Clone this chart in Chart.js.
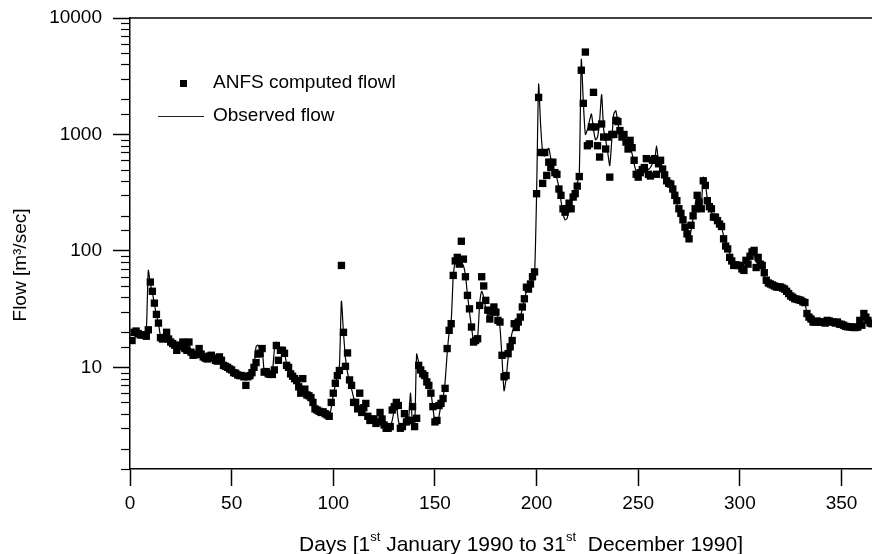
<!DOCTYPE html>
<html>
<head>
<meta charset="utf-8">
<title>Flow 1990</title>
<script src="https://cdn.jsdelivr.net/npm/chart.js@4.4.0/dist/chart.umd.min.js"></script>
<style>
    html, body { margin: 0; padding: 0; background: #ffffff; }
    #chartBox { width: 872px; height: 554px; }
</style>
</head>
<body>
<div id="chartBox"><canvas id="flowChart" width="872" height="554"></canvas></div>
<script>
// daily observed flow (m3/sec), one array per month of 1990
const observedJan = [19.5, 20, 20, 19.5, 19.5, 19, 19, 20, 68, 52, 44, 35, 28, 24, 18.5, 18, 18.5, 19.5, 18, 17, 16, 15, 14.5, 15.5, 16, 16, 15.5, 15, 15.5, 14, 13];
const observedFeb = [13, 13.5, 14, 13.5, 12.5, 12, 12, 12.5, 12.5, 12, 11.5, 11.5, 12, 11.5, 10.5, 10, 10, 9.8, 9.5, 9, 8.8, 8.7, 8.5, 8.5, 8.2, 8, 8, 8.5];
const observedMar = [9, 10, 15, 15.5, 14.5, 14.5, 9.2, 9, 9, 8.8, 9, 14, 16.5, 15, 14, 13.5, 13, 11, 10, 9, 8.5, 7.8, 7.5, 7, 6.8, 6.5, 6, 5.8, 5.7, 5.5, 5];
const observedApr = [4.7, 4.3, 4.3, 4.2, 4.1, 4, 3.9, 3.8, 4.5, 5.8, 7, 8.5, 10, 37, 20, 12, 9, 7.5, 6.5, 5.5, 5, 4.8, 4.6, 4.3, 4.2, 4, 3.8, 3.6, 3.5, 3.4];
const observedMay = [3.3, 3.3, 3.5, 3.5, 3.2, 3, 3, 3.1, 3.5, 4.3, 4.8, 3.5, 3, 3.1, 3.5, 3.2, 3.5, 6, 3.2, 3, 13, 11, 9.5, 8.8, 8.5, 7.8, 7, 6.2, 4.5, 3.4, 3.3];
const observedJun = [3.8, 4.8, 5.5, 7.5, 13, 20, 25, 60, 82, 88, 84, 78, 75, 62, 42, 30, 22, 17, 17, 18, 35, 45, 40, 32, 28, 26, 28, 32, 30, 27];
const observedJul = [22, 12, 6.3, 8, 12, 16, 20, 22, 23, 25, 27, 32, 38, 45, 50, 52, 58, 62, 300, 2700, 1200, 700, 650, 720, 760, 620, 520, 460, 420, 350, 270];
const observedAug = [210, 185, 190, 230, 255, 290, 310, 380, 450, 4400, 1900, 1000, 1100, 1300, 1500, 1100, 900, 950, 1300, 2200, 1100, 900, 700, 540, 900, 1500, 1600, 1250, 1050, 950, 900];
const observedSep = [850, 800, 800, 680, 560, 480, 460, 470, 500, 520, 540, 500, 520, 560, 580, 800, 580, 560, 500, 430, 400, 370, 345, 320, 290, 260, 215, 190, 165, 145];
const observedOct = [130, 120, 150, 190, 250, 300, 260, 250, 430, 380, 280, 240, 215, 200, 190, 180, 170, 160, 135, 115, 105, 95, 85, 78, 75, 74, 73, 72, 78, 85, 90];
const observedNov = [98, 100, 95, 80, 85, 80, 72, 60, 56, 53, 52, 51, 50, 49, 49, 48, 47.5, 47, 45, 43, 41, 40, 39, 38.5, 38, 37.5, 37, 36, 29, 27];
const observedDec = [26, 25, 24.5, 24.5, 24.5, 24.5, 24.5, 25, 25.3, 25, 24.5, 24.5, 24, 24, 23.5, 23.4, 23, 22.5, 22.5, 22.3, 22.2, 22, 22, 22, 23, 26, 28, 27, 25, 24, 23.7];

// daily ANFS computed flow
const computedJan = [17, 20, 20.5, 19.5, 19, 19, 19, 18.5, 21, 54, 45, 35.6, 28.5, 24, 18, 17.5, 18, 20, 17.5, 16.5, 16, 15.5, 14, 15, 15.5, 16.5, 14.5, 14, 16.5, 13.5, 12.7];
const computedFeb = [12.8, 13, 14.5, 13, 12.3, 12, 11.8, 12.5, 12.7, 12, 11.5, 11.3, 12.3, 11.5, 10.4, 10.2, 10, 9.7, 9.5, 9, 8.9, 8.6, 8.5, 8.5, 8.3, 7, 8.3, 8.5];
const computedMar = [9, 10, 11, 13, 13.2, 14.5, 9.1, 9.2, 8.8, 8.7, 8.7, 9.5, 15.4, 11.5, 14, 14, 13.2, 10.4, 10, 8.8, 8.4, 8, 7.7, 6.8, 6, 8, 6.5, 5.8, 5.7, 5.5, 5];
const computedApr = [4.4, 4.3, 4.2, 4.1, 4.15, 4, 3.9, 3.8, 5, 6, 7.3, 8.5, 9.4, 75, 20, 10.2, 13.3, 7.8, 7, 5, 5, 4.4, 6, 4.1, 4.5, 4.9, 3.8, 3.5, 3.6, 3.6];
const computedMay = [3.3, 3.4, 4.1, 3.6, 3.2, 3, 3, 3.1, 4.3, 4.6, 5, 4.7, 3, 3.1, 4, 3.4, 3.5, 3.5, 4.6, 3.1, 3.65, 10.4, 9.5, 8.8, 8.5, 7.5, 7, 6, 4.6, 3.4, 3.5];
const computedJun = [4.7, 4.9, 5.4, 6.6, 14.5, 20.8, 23.7, 61.6, 82, 88, 77, 121, 85, 60, 41.5, 31.8, 22.2, 16.5, 17, 17.6, 34, 60, 50, 37.6, 31, 26, 30, 33, 29.8, 25.3];
const computedJul = [24.5, 12.7, 8.3, 8.5, 13.1, 15, 17, 23.7, 22, 24.5, 27, 33, 38.8, 48.8, 47, 52, 60, 66, 310, 2080, 700, 380, 700, 445, 578, 520, 578, 470, 455, 340, 300];
const computedAug = [230, 215, 230, 257, 230, 290, 310, 360, 435, 3560, 1850, 5100, 800, 830, 1160, 2300, 1160, 800, 640, 1230, 950, 750, 950, 430, 1000, 1000, 1320, 1290, 1080, 950, 1000];
const computedSep = [860, 750, 890, 770, 600, 455, 430, 470, 500, 520, 620, 455, 440, 600, 620, 455, 560, 600, 505, 450, 400, 380, 375, 340, 300, 270, 230, 210, 185, 160];
const computedOct = [140, 127, 166, 200, 230, 300, 262, 230, 400, 365, 270, 240, 230, 195, 195, 182, 170, 162, 127, 110, 104, 88, 82, 75, 76, 75, 75, 70, 68, 83, 77];
const computedNov = [90, 98, 101, 72, 88, 77, 75, 65, 56, 53, 52, 51, 50, 49, 49, 49, 48, 47, 45, 43, 41, 40, 38.8, 38.5, 38, 37.6, 36.5, 36, 29, 27];
const computedDec = [26, 24.5, 24.5, 25, 24.5, 24.5, 24.5, 24, 25.3, 25, 24.5, 24.5, 24, 24.5, 23.5, 23.4, 23, 22.5, 22.3, 22.3, 22.2, 22, 22, 22.2, 25.3, 23, 29, 27, 25.3, 24, 23.7];

const observedMonths = [observedJan, observedFeb, observedMar, observedApr, observedMay, observedJun,
    observedJul, observedAug, observedSep, observedOct, observedNov, observedDec];
const computedMonths = [computedJan, computedFeb, computedMar, computedApr, computedMay, computedJun,
    computedJul, computedAug, computedSep, computedOct, computedNov, computedDec];

const dayMin = 0;
const dayMax = 365;
const dayStep = 50;
const flowMin = 1.34;
const flowMax = 10000;
const legendNames = ['ANFS computed flowl', 'Observed flow'];

const FONT = '"Liberation Sans", Arial, Helvetica, sans-serif';

// day 1 = 1st January
function toPoints(months) {
    let points = [];
    let day = 1;
    for (let m = 0; m < months.length; m++) {
        for (let i = 0; i < months[m].length; i++) {
            points.push({ x: day, y: months[m][i] });
            day++;
        }
    }
    return points;
}

function isDecade(v) {
    let l = Math.log10(v);
    return Math.abs(l - Math.round(l)) < 1e-6;
}

// draws the bits Chart.js has no option for: minor ticks, top frame, legend, axis titles
const decorations = {
    id: 'decorations',
    afterDraw(chart) {
        const ctx = chart.ctx;
        const area = chart.chartArea;
        const yScale = chart.scales.y;

        ctx.save();
        ctx.strokeStyle = '#000';
        ctx.lineWidth = 1.5;

        // top frame line
        ctx.beginPath();
        ctx.moveTo(area.left, area.top);
        ctx.lineTo(area.right, area.top);
        ctx.stroke();

        // short minor ticks on the log axis
        ctx.lineWidth = 1.2;
        yScale.ticks.forEach(t => {
            if (isDecade(t.value)) return;
            const py = Math.round(yScale.getPixelForValue(t.value)) + 0.5;
            ctx.beginPath();
            ctx.moveTo(area.left - 9, py);
            ctx.lineTo(area.left, py);
            ctx.stroke();
        });

        // legend
        ctx.fillStyle = '#000';
        ctx.fillRect(180, 80, 7, 7);
        ctx.strokeStyle = '#222';
        ctx.lineWidth = 1;
        ctx.beginPath();
        ctx.moveTo(158, 116.5);
        ctx.lineTo(204, 116.5);
        ctx.stroke();
        ctx.font = '19px ' + FONT;
        ctx.textAlign = 'left';
        ctx.textBaseline = 'middle';
        ctx.fillText(legendNames[0], 213, 83);
        ctx.fillText(legendNames[1], 213, 116);

        // y axis title
        ctx.save();
        ctx.translate(21, 265);
        ctx.rotate(-Math.PI / 2);
        ctx.textAlign = 'center';
        ctx.textBaseline = 'middle';
        ctx.fillText('Flow [m\u00b3/sec]', 0, 0);
        ctx.restore();

        // x axis title with superscripts
        const parts = [
            ['Days [1', false], ['st', true], [' January 1990 to 31', false], ['st', true], ['  December 1990]', false]
        ];
        const big = '21px ' + FONT;
        const small = '13px ' + FONT;
        let total = 0;
        parts.forEach(p => {
            ctx.font = p[1] ? small : big;
            total += ctx.measureText(p[0]).width;
        });
        let x = 521 - total / 2;
        ctx.textAlign = 'left';
        ctx.textBaseline = 'alphabetic';
        parts.forEach(p => {
            ctx.font = p[1] ? small : big;
            ctx.fillText(p[0], x, p[1] ? 541 : 551);
            x += ctx.measureText(p[0]).width;
        });

        ctx.restore();
    }
};

function initFlowChart() {
    const canvas = document.getElementById('flowChart');
    new Chart(canvas, {
        type: 'line',
        data: {
            datasets: [
                {
                    label: legendNames[1],
                    data: toPoints(observedMonths),
                    borderColor: '#000',
                    borderWidth: 1.2,
                    pointRadius: 0,
                    tension: 0.2,
                    fill: false,
                    order: 1
                },
                {
                    label: legendNames[0],
                    data: toPoints(computedMonths),
                    showLine: false,
                    pointStyle: 'rect',
                    pointRadius: 5.2,
                    pointBorderWidth: 0,
                    pointBackgroundColor: '#000',
                    borderColor: '#000',
                    order: 2
                }
            ]
        },
        options: {
            responsive: false,
            animation: false,
            devicePixelRatio: 1,
            layout: {
                autoPadding: false,
                padding: { top: 18, right: 0, bottom: 0, left: 0 }
            },
            plugins: {
                legend: { display: false },
                tooltip: { enabled: false }
            },
            scales: {
                x: {
                    type: 'linear',
                    position: 'bottom',
                    min: dayMin,
                    max: dayMax,
                    afterFit: s => {
                        s.height = 85;
                        s.paddingLeft = 0;
                        s.paddingRight = 0;
                    },
                    ticks: {
                        stepSize: dayStep,
                        includeBounds: false,
                        color: '#000',
                        font: { family: FONT, size: 19 },
                        padding: 6,
                        maxRotation: 0
                    },
                    grid: {
                        drawOnChartArea: false,
                        tickLength: 17,
                        tickColor: '#000',
                        tickWidth: 1.5
                    },
                    border: { color: '#000', width: 1.5 }
                },
                y: {
                    type: 'logarithmic',
                    position: 'left',
                    min: flowMin,
                    max: flowMax,
                    afterFit: s => {
                        s.width = 130;
                        s.paddingTop = 0;
                        s.paddingBottom = 0;
                    },
                    ticks: {
                        autoSkip: false,
                        includeBounds: false,
                        color: '#000',
                        font: { family: FONT, size: 19 },
                        padding: 11,
                        callback: v => isDecade(v) ? String(Math.round(v)) : ''
                    },
                    grid: {
                        drawOnChartArea: false,
                        tickLength: 17,
                        tickWidth: 1.5,
                        tickColor: c => (c.tick && isDecade(c.tick.value)) ? '#000' : 'rgba(0,0,0,0)'
                    },
                    border: { color: '#000', width: 1.5 }
                }
            }
        },
        plugins: [decorations]
    });
}

window.addEventListener('load', initFlowChart);
</script>
</body>
</html>
